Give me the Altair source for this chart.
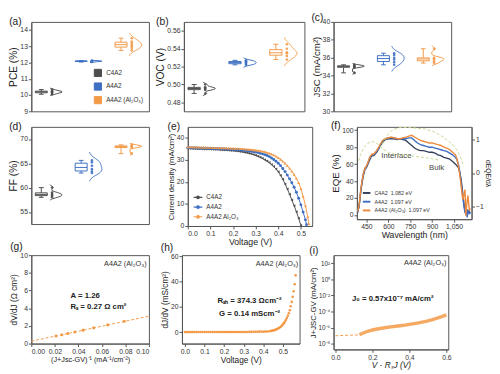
import altair as alt
import pandas as pd

FONT = "Liberation Sans"
GRAY = "#4d4d4d"
BLUE = "#3e6fc2"
ORANGE = "#f39a48"
NAVY = "#34405a"
GREEN = "#c5d98c"
AXC = "#555555"

groups = ["C4A2", "A4A2", "A4A2 (Al₂O₃)"]
group_colors = [GRAY, BLUE, ORANGE]

# (a) PCE (%)
pce_c4a2 = [10.05, 10.12, 10.16, 10.2, 10.22, 10.26, 10.34]
pce_a4a2 = [12.03, 12.06, 12.08, 12.09, 12.1, 12.12]
pce_al2o3 = [12.75, 12.9, 13.0, 13.1, 13.2, 13.3, 13.5]
# (b) Voc (V)
voc_c4a2 = [0.490, 0.494, 0.495, 0.496, 0.497, 0.500]
voc_a4a2 = [0.522, 0.523, 0.524, 0.525, 0.526, 0.527]
voc_al2o3 = [0.528, 0.532, 0.535, 0.536, 0.540, 0.545]
# (c) Jsc (mA/cm2)
jsc_c4a2 = [34.3, 34.9, 35.0, 35.05, 35.1, 35.2]
jsc_a4a2 = [35.2, 35.5, 35.8, 36.0, 36.3, 36.5]
jsc_al2o3 = [35.4, 35.6, 35.8, 35.9, 36.0, 37.0]
# (d) FF (%)
ff_c4a2 = [58.0, 58.3, 58.5, 58.7, 59.0, 60.0]
ff_a4a2 = [63.0, 63.3, 63.8, 64.5, 65.2, 65.6]
ff_al2o3 = [67.0, 68.2, 68.4, 68.5, 68.6, 68.8]

# (e) J-V curves
jv_names = ["C4A2", "A4A2", "A4A2 Al₂O₃"]
jv_shapes = ["triangle-left", "circle", "triangle-up"]
jv_v_c4a2 = [0.00, 0.01, 0.02, 0.03, 0.04, 0.05, 0.06, 0.07, 0.08, 0.09, 0.10, 0.11, 0.12, 0.13, 0.14, 0.15, 0.16, 0.17,
             0.18, 0.19, 0.20, 0.21, 0.22, 0.23, 0.24, 0.25, 0.26, 0.27, 0.28, 0.29, 0.30, 0.31, 0.32, 0.33, 0.34, 0.35,
             0.36, 0.37, 0.38, 0.39, 0.40, 0.41, 0.42, 0.43, 0.44, 0.45, 0.46, 0.47, 0.48, 0.49, 0.50]
jv_j_c4a2 = [35.2, 35.17, 35.14, 35.11, 35.08, 35.05, 35.0, 34.97, 34.93, 34.9, 34.85, 34.8, 34.75, 34.7, 34.65, 34.6,
             34.5, 34.45, 34.35, 34.3, 34.2, 34.1, 34.0, 33.85, 33.7, 33.5, 33.3, 33.05, 32.8, 32.45, 32.1, 31.7, 31.2,
             30.7, 30.1, 29.5, 28.8, 27.9, 27.0, 25.9, 24.6, 23.0, 21.2, 19.1, 16.8, 14.4, 11.8, 9.2, 6.5, 3.5, 0.3]
jv_v_a4a2 = [0.00, 0.01, 0.02, 0.03, 0.04, 0.05, 0.06, 0.07, 0.08, 0.09, 0.10, 0.11, 0.12, 0.13, 0.14, 0.15, 0.16, 0.17,
             0.18, 0.19, 0.20, 0.21, 0.22, 0.23, 0.24, 0.25, 0.26, 0.27, 0.28, 0.29, 0.30, 0.31, 0.32, 0.33, 0.34, 0.35,
             0.36, 0.37, 0.38, 0.39, 0.40, 0.41, 0.42, 0.43, 0.44, 0.45, 0.46, 0.47, 0.48, 0.49, 0.50, 0.51, 0.52, 0.525]
jv_j_a4a2 = [35.5, 35.47, 35.44, 35.41, 35.38, 35.35, 35.32, 35.29, 35.26, 35.23, 35.2, 35.16, 35.12, 35.08, 35.04,
             35.0, 34.95, 34.9, 34.85, 34.8, 34.75, 34.67, 34.6, 34.5, 34.4, 34.3, 34.17, 34.03, 33.88, 33.73, 33.55,
             33.32, 33.05, 32.75, 32.4, 32.0, 31.5, 30.9, 30.2, 29.4, 28.5, 27.4, 26.1, 24.7, 23.1, 21.4, 19.6, 17.6,
             15.3, 12.6, 9.6, 6.3, 2.8, 0.6]
jv_v_al2o3 = [0.00, 0.01, 0.02, 0.03, 0.04, 0.05, 0.06, 0.07, 0.08, 0.09, 0.10, 0.11, 0.12, 0.13, 0.14, 0.15, 0.16,
              0.17, 0.18, 0.19, 0.20, 0.21, 0.22, 0.23, 0.24, 0.25, 0.26, 0.27, 0.28, 0.29, 0.30, 0.31, 0.32, 0.33,
              0.34, 0.35, 0.36, 0.37, 0.38, 0.39, 0.40, 0.41, 0.42, 0.43, 0.44, 0.45, 0.46, 0.47, 0.48, 0.49, 0.50,
              0.51, 0.52, 0.53, 0.535]
jv_j_al2o3 = [35.9, 35.87, 35.84, 35.81, 35.78, 35.75, 35.72, 35.69, 35.66, 35.63, 35.6, 35.57, 35.54, 35.5, 35.47,
              35.43, 35.4, 35.36, 35.32, 35.28, 35.24, 35.19, 35.14, 35.08, 35.02, 34.95, 34.87, 34.78, 34.68, 34.56,
              34.42, 34.27, 34.1, 33.9, 33.66, 33.38, 33.05, 32.66, 32.2, 31.65, 31.0, 30.25, 29.4, 28.45, 27.4, 26.2,
              24.9, 23.4, 21.7, 19.6, 16.9, 13.4, 9.3, 4.3, 1.0]

# (f) EQE spectra
eqe_names = ["C4A2\u00a0\u00a01.082 eV", "A4A2\u00a0\u00a01.097 eV", "A4A2 (Al₂O₃)\u00a0\u00a01.097 eV"]
eqe_wl = [390, 400, 410, 420, 430, 440, 450, 460, 470, 480, 490, 500, 520, 540, 560, 580, 600, 620, 640, 660, 680, 700,
          720, 740, 760, 780, 800, 820, 840, 860, 880, 900, 920, 940, 960, 980, 1000, 1020, 1040, 1060, 1070, 1080,
          1090, 1100, 1110, 1120, 1125, 1130, 1135, 1140, 1145, 1150, 1155, 1160]
eqe_c4a2 = [3, 10, 25, 38, 47, 54, 56, 60, 64, 68, 70, 70, 74, 80, 86, 89, 90, 90, 90, 89, 90, 89, 88, 85, 82, 79, 77,
            76, 76, 75, 74, 74, 73, 71, 70, 68, 67, 66, 63, 60, 58, 56, 50, 40, 25, 10, 4, 12, 6, 2, 5, 3, 4, 2]
eqe_a4a2 = [3, 11, 27, 40, 49, 55, 57, 61, 66, 70, 71, 71, 75, 81, 87, 90, 91, 91, 91, 90, 90, 90, 90, 91, 91, 88, 85,
            83, 82, 81, 80, 80, 79, 78, 77, 76, 75, 73, 71, 68, 65, 60, 50, 36, 20, 8, 2, 8, 3, -3, 6, 2, 3, 1]
eqe_al2o3 = [4, 12, 28, 40, 50, 55, 58, 62, 67, 70, 72, 72, 76, 82, 88, 90, 91, 92, 91, 90, 90, 91, 92, 93, 94, 92, 90,
             88, 87, 86, 85, 85, 84, 83, 82, 80, 79, 77, 74, 71, 66, 58, 46, 32, 18, 25, 30, -1, 8, 18, 23, 14, 5, 8]
interface_wl = [397, 410, 430, 460, 495, 530, 560, 600, 680, 770, 860, 950]
interface_r = [0.36, 0.55, 0.72, 0.88, 0.93, 0.85, 0.72, 0.60, 0.52, 0.50, 0.45, 0.38]
bulk_wl = [560, 580, 600, 630, 680, 750, 850, 920, 980, 1030, 1070, 1100, 1115]
bulk_r = [0.85, 1.02, 1.15, 1.28, 1.34, 1.34, 1.30, 1.20, 1.05, 0.88, 0.68, 0.40, 0.20]

# (g) dV/dJ vs (J+Jsc-GV)^-1
g_x = [0.021, 0.026, 0.031, 0.037, 0.044, 0.053, 0.065, 0.079]
g_y = [0.86, 1.00, 1.15, 1.32, 1.52, 1.78, 2.12, 2.52]
g_fit_x = [0.0, 0.1]
g_fit_y = [0.27, 3.1]

# (h) dJ/dV vs V
h_v = [0.00, 0.01, 0.02, 0.03, 0.04, 0.05, 0.06, 0.07, 0.08, 0.09, 0.10, 0.11, 0.12, 0.13, 0.14, 0.15, 0.16, 0.17,
       0.18, 0.19, 0.20, 0.21, 0.22, 0.23, 0.24, 0.25, 0.26, 0.27, 0.28, 0.29, 0.30, 0.31, 0.32, 0.33, 0.34, 0.35,
       0.36, 0.37, 0.38, 0.39, 0.40, 0.41, 0.42, 0.43, 0.44, 0.445, 0.45, 0.455, 0.46, 0.465, 0.47, 0.475, 0.48,
       0.485, 0.49, 0.495, 0.50, 0.505, 0.51, 0.515, 0.52, 0.525, 0.53, 0.535, 0.54, 0.545, 0.55, 0.555, 0.56, 0.565]
h_g = [0.10, 0.10, 0.11, 0.11, 0.11, 0.12, 0.12, 0.12, 0.12, 0.13, 0.13, 0.13, 0.13, 0.13, 0.14, 0.14, 0.14, 0.14,
       0.14, 0.14, 0.15, 0.15, 0.15, 0.16, 0.16, 0.17, 0.17, 0.18, 0.19, 0.20, 0.21, 0.22, 0.24, 0.26, 0.29, 0.32,
       0.36, 0.41, 0.47, 0.55, 0.42, 0.50, 0.62, 0.80, 1.05, 1.20, 1.40, 1.60, 1.85, 2.15, 2.50, 2.90, 3.40,
       3.90, 4.60, 5.30, 6.20, 7.20, 8.30, 9.70, 11.3, 13.0, 15.0, 17.3, 20.5, 24.0, 28.0, 32.5, 38.0, 45.0]

# (i) J+Jsc-GV vs V-RsJ
i_v = [0.13, 0.15, 0.175, 0.2, 0.225, 0.25, 0.275, 0.3, 0.325, 0.35, 0.375, 0.4, 0.425, 0.45, 0.475, 0.5, 0.525,
       0.55, 0.575, 0.6]
i_j = [1.3e-7, 2.2e-7, 3.6e-7, 5.2e-7, 6.8e-7, 8.5e-7, 1.05e-6, 1.25e-6, 1.5e-6, 1.75e-6, 2.1e-6, 2.6e-6, 3.2e-6,
       4.0e-6, 5.2e-6, 7.0e-6, 1.0e-5, 1.5e-5, 2.3e-5, 3.8e-5]
i_fit_v = [0.0, 0.13]
i_fit_j = [1.0e-7, 1.3e-7]


def ax(**kw):
    d = dict(grid=False, tickSize=3, labelFontSize=7, titleFontSize=10, labelPadding=1, titlePadding=1)
    d.update(kw)
    return alt.Axis(**d)


def ltitle(t, off=-6):
    return alt.TitleParams(t, anchor="start", frame="bounds", fontSize=10.5, fontWeight="normal",
                           offset=off, color="#222")


def box_panel(series, ydom, yticks, ytitle, letter, w, h, fmt=None, legend=None, tsize=10):
    rows = []
    for i, (g, vals) in enumerate(zip(groups, series)):
        for v in vals:
            rows.append({"grp": g, "g2": g, "pos": i + 1, "value": v})
    df = pd.DataFrame(rows)
    xs = alt.Scale(domain=[0.75, 3.7], nice=False, zero=False)
    ys = alt.Scale(domain=ydom, nice=False, zero=False)
    akw = dict(values=yticks, title=ytitle, titleFontSize=tsize)
    if fmt:
        akw["format"] = fmt
    yax = ax(**akw)
    cs = alt.Scale(domain=groups, range=group_colors)
    col = alt.Color("grp:N", scale=cs, legend=legend)
    base = alt.Chart(df)
    stats = base.transform_aggregate(
        q1="q1(value)", q3="q3(value)", med="median(value)", lo="min(value)", hi="max(value)",
        groupby=["grp", "pos"]
    ).transform_calculate(
        xl="datum.pos - 0.15", xr="datum.pos + 0.15", cl="datum.pos - 0.06", cr="datum.pos + 0.06"
    )
    X = lambda f: alt.X(f, scale=xs, axis=None)
    Y = lambda f: alt.Y(f, scale=ys, axis=yax)
    box = stats.mark_rect(filled=False, fill="transparent", strokeWidth=1).encode(
        x=X("xl:Q"), x2="xr:Q", y=Y("q1:Q"), y2="q3:Q", color=col)
    wl = stats.mark_rule(strokeWidth=1).encode(x=X("pos:Q"), y=Y("lo:Q"), y2="q1:Q", color=col)
    wh = stats.mark_rule(strokeWidth=1).encode(x=X("pos:Q"), y=Y("q3:Q"), y2="hi:Q", color=col)
    c1 = stats.mark_rule(strokeWidth=1).encode(x=X("cl:Q"), x2="cr:Q", y=Y("lo:Q"), color=col)
    c2 = stats.mark_rule(strokeWidth=1).encode(x=X("cl:Q"), x2="cr:Q", y=Y("hi:Q"), color=col)
    med = stats.mark_rule(strokeWidth=1).encode(x=X("xl:Q"), x2="xr:Q", y=Y("med:Q"), color=col)
    pts = base.transform_calculate(px="datum.pos + 0.27").mark_circle(size=7, opacity=0.9).encode(
        x=X("px:Q"), y=Y("value:Q"), fill=alt.Fill("g2:N", scale=cs, legend=None))
    vio = base.transform_density(
        "value", groupby=["grp", "pos"], extent=ydom, steps=200, as_=["value", "density"]
    ).transform_joinaggregate(dmax="max(density)", groupby=["grp"]).transform_calculate(
        nd="datum.density / datum.dmax", vx="datum.pos + 0.2 + 0.32 * datum.density / datum.dmax"
    ).transform_filter("datum.nd > 0.03").mark_line(strokeWidth=1).encode(
        x=X("vx:Q"), y=Y("value:Q"), order="value:Q", color=col, detail="grp:N")
    return alt.layer(box, vio, wl, wh, c1, c2, med, pts).properties(width=w, height=h, title=ltitle(letter))


legend_a = alt.Legend(title=None, orient="bottom-right", symbolType="square", symbolSize=55, symbolStrokeWidth=1,
                      symbolFillColor="transparent", labelFontSize=6.5, rowPadding=1, padding=2, offset=3,
                      labelOffset=4)

pa = box_panel([pce_c4a2, pce_a4a2, pce_al2o3], [9, 14.5], [9, 10, 11, 12, 13, 14], "PCE (%)", "(a)", 121, 92,
               legend=legend_a, tsize=10.5)
pb = box_panel([voc_c4a2, voc_a4a2, voc_al2o3], [0.47, 0.57], [0.48, 0.50, 0.52, 0.54, 0.56], "VOC (V)", "(b)", 124,
               92, fmt=".2f", tsize=10.5)
pc = box_panel([jsc_c4a2, jsc_a4a2, jsc_al2o3], [30, 40], [30, 32, 34, 36, 38, 40], "JSC (mA/cm²)", "(c)", 121, 92,
               tsize=10)
pd_ = box_panel([ff_c4a2, ff_a4a2, ff_al2o3], [52.5, 72.5], [55, 60, 65, 70], "FF (%)", "(d)", 121, 100, tsize=10.5)

# (e)
rows = []
for n, vs, js in zip(jv_names, [jv_v_c4a2, jv_v_a4a2, jv_v_al2o3], [jv_j_c4a2, jv_j_a4a2, jv_j_al2o3]):
    for v, j in zip(vs, js):
        rows.append({"dev": n, "v": v, "j": j})
df_e = pd.DataFrame(rows)
cs_e = alt.Scale(domain=jv_names, range=[GRAY, BLUE, ORANGE])
leg_e = alt.Legend(title=None, orient="bottom-left",
                   symbolType="M-1,0L1,0M-0.3,0A0.3,0.3,0,1,0,0.3,0A0.3,0.3,0,1,0,-0.3,0",
                   symbolSize=80, symbolStrokeWidth=1.2, labelFontSize=6.5, rowPadding=0, padding=2, offset=3,
                   labelOffset=3)
xe = alt.X("v:Q", scale=alt.Scale(domain=[0, 0.55], nice=False),
           axis=ax(values=[0, 0.1, 0.2, 0.3, 0.4, 0.5], format=".1f", title="Voltage (V)", titleFontSize=9))
ye = alt.Y("j:Q", scale=alt.Scale(domain=[0, 45], nice=False),
           axis=ax(values=[0, 10, 20, 30, 40], title="Current density (mA/cm²)", titleFontSize=8))
col_e = alt.Color("dev:N", scale=cs_e, legend=leg_e)
le = alt.Chart(df_e).mark_line(strokeWidth=1).encode(x=xe, y=ye, color=col_e)
e_layers = [le]
for n, shp in zip(jv_names, jv_shapes):
    e_layers.append(alt.Chart(df_e).transform_filter(alt.datum.dev == n).mark_point(
        size=9, filled=True, opacity=1, shape=shp).encode(x=xe, y=ye, color=col_e))
pe = alt.layer(*e_layers).properties(width=128, height=102, title=ltitle("(e)"))

# (f)
rows = []
for n, ys_ in zip(eqe_names, [eqe_c4a2, eqe_a4a2, eqe_al2o3]):
    for wv, e in zip(eqe_wl, ys_):
        rows.append({"dev": n, "wl": wv, "eqe": e})
df_f = pd.DataFrame(rows)
rows = []
for n, wls, rs in [("Interface", interface_wl, interface_r), ("Bulk", bulk_wl, bulk_r)]:
    for wv, r in zip(wls, rs):
        rows.append({"part": n, "wl": wv, "r": r})
df_fd = pd.DataFrame(rows)
df_ft = pd.DataFrame({"wl": [655, 930], "eqe": [70, 55], "t": ["Interface", "Bulk"]})
xf = alt.X("wl:Q", scale=alt.Scale(domain=[385, 1170], nice=False),
           axis=ax(values=[450, 600, 750, 900, 1050], title="Wavelength (nm)", titleFontSize=9))
yf = alt.Y("eqe:Q", scale=alt.Scale(domain=[-5, 104], nice=False),
           axis=ax(values=[0, 20, 40, 60, 80, 100], title="EQE (%)", titleFontSize=10))
leg_f = alt.Legend(title=None, orient="bottom-left", symbolType="stroke", symbolStrokeWidth=2, symbolSize=60,
                   labelFontSize=5.5, rowPadding=0, padding=2, offset=3, labelOffset=3)
lf = alt.Chart(df_f).mark_line(strokeWidth=1.4).encode(
    x=xf, y=yf, color=alt.Color("dev:N", scale=alt.Scale(domain=eqe_names, range=[NAVY, BLUE, "#ee8a3c"]),
                                legend=leg_f))
tf = alt.Chart(df_ft).mark_text(fontSize=8, color="#444").encode(x=xf, y=yf, text="t:N")
dfl = alt.Chart(df_fd).mark_line(strokeWidth=1, strokeDash=[3, 2], color=GREEN).encode(
    x=xf, y=alt.Y("r:Q", scale=alt.Scale(domain=[-1.36, 1.36], nice=False),
                  axis=ax(orient="right", values=[-1, 0, 1], title="dEQE/dλ", titleFontSize=7)),
    detail="part:N")
pf = alt.layer(alt.layer(lf, tf), dfl).resolve_scale(y="independent").properties(
    width=118, height=95, title=ltitle("(f)"))

# (g)
df_g = pd.DataFrame({"x": g_x, "y": g_y})
df_gf = pd.DataFrame({"x": g_fit_x, "y": g_fit_y})
xg = alt.X("x:Q", scale=alt.Scale(domain=[0, 0.1], nice=False),
           axis=ax(values=[0, 0.02, 0.04, 0.06, 0.08, 0.1], format=".2f",
                   title="(J+Jsc-GV)⁻¹ (mA⁻¹/cm⁻²)", titleFontSize=7.5))
yg = alt.Y("y:Q", scale=alt.Scale(domain=[0, 10], nice=False),
           axis=ax(values=[0, 2, 4, 6, 8, 10], title="dV/dJ (Ω cm²)", titleFontSize=8.5))
gl = alt.Chart(df_gf).mark_line(strokeWidth=1, strokeDash=[3, 2], color=ORANGE).encode(x=xg, y=yg)
gp = alt.Chart(df_g).mark_circle(size=10, color=ORANGE, opacity=1).encode(x=xg, y=yg)
df_gt = pd.DataFrame({"x": [0.0333, 0.0333], "y": [5.4, 4.1], "t": ["A = 1.26", "Rₛ = 0.27 Ω cm²"]})
gt = alt.Chart(df_gt).mark_text(fontSize=8, fontWeight="bold", align="left", color="#222").encode(
    x=xg, y=yg, text="t:N")
df_gh = pd.DataFrame({"x": [0.098], "y": [9.0], "t": ["A4A2 (Al₂O₃)"]})
gh = alt.Chart(df_gh).mark_text(fontSize=7.5, align="right", color="#333").encode(x=xg, y=yg, text="t:N")
pg = alt.layer(gl, gp, gt, gh).properties(width=121, height=91, title=ltitle("(g)", -1))

# (h)
df_h = pd.DataFrame({"v": h_v, "g": h_g})
xh = alt.X("v:Q", scale=alt.Scale(domain=[-0.015, 0.585], nice=False),
           axis=ax(values=[0, 0.1, 0.2, 0.3, 0.4, 0.5], format=".1f", title="Voltage (V)", titleFontSize=8.5))
yh = alt.Y("g:Q", scale=alt.Scale(domain=[-9, 61], nice=False),
           axis=ax(values=[0, 20, 40, 60], title="dJ/dV (mS/cm²)", titleFontSize=8.5))
hp = alt.Chart(df_h).mark_circle(size=7, color=ORANGE, opacity=1).encode(x=xh, y=yh)
df_ht = pd.DataFrame({"v": [0.33, 0.33], "g": [24.8, 14.7], "t": ["Rₛₕ = 374.3 Ωcm⁻²", "G = 0.14 mScm⁻²"]})
ht = alt.Chart(df_ht).mark_text(fontSize=8, fontWeight="bold", color="#222").encode(x=xh, y=yh, text="t:N")
df_hh = pd.DataFrame({"v": [0.578], "g": [53.8], "t": ["A4A2 (Al₂O₃)"]})
hh = alt.Chart(df_hh).mark_text(fontSize=7.5, align="right", color="#333").encode(x=xh, y=yh, text="t:N")
ph = alt.layer(hp, ht, hh).properties(width=121, height=91, title=ltitle("(h)", -1))

# (i)
df_i = pd.DataFrame({"v": i_v, "j": i_j})
df_if = pd.DataFrame({"v": i_fit_v, "j": i_fit_j})
xi = alt.X("v:Q", scale=alt.Scale(domain=[-0.01, 0.61], nice=False),
           axis=ax(values=[0, 0.2, 0.4, 0.6], format=".1f", title="V - RₛJ (V)", titleFontSize=8.5,
                   titleFontStyle="italic"))
lab_expr = ("datum.value > 50 ? '10²' : datum.value > 0.5 ? '10⁰' : datum.value > 0.005 ? '10⁻²' : "
            "datum.value > 0.00005 ? '10⁻⁴' : datum.value > 0.0000005 ? '10⁻⁶' : '10⁻⁸'")
yi = alt.Y("j:Q", scale=alt.Scale(type="log", domain=[2e-9, 1e3], nice=False),
           axis=ax(values=[1e-8, 1e-6, 1e-4, 1e-2, 1, 100], labelExpr=lab_expr, labelFontSize=6.5,
                   title="J+JSC-GV (mA/cm²)", titleFontSize=8))
il = alt.Chart(df_i).mark_line(strokeWidth=3.5, color=ORANGE, opacity=0.85).encode(x=xi, y=yi)
ifl = alt.Chart(df_if).mark_line(strokeWidth=1, strokeDash=[3, 2], color=ORANGE).encode(x=xi, y=yi)
df_it = pd.DataFrame({"v": [0.31], "j": [3.8e-3], "t": ["J₀ = 0.57x10⁻⁷ mA/cm²"]})
it = alt.Chart(df_it).mark_text(fontSize=8, fontWeight="bold", color="#222").encode(x=xi, y=yi, text="t:N")
df_ih = pd.DataFrame({"v": [0.6], "j": [100], "t": ["A4A2 (Al₂O₃)"]})
ih = alt.Chart(df_ih).mark_text(fontSize=7.5, align="right", color="#333").encode(x=xi, y=yi, text="t:N")
pi = alt.layer(ifl, il, it, ih).properties(width=118, height=97, title=ltitle("(i)", -1))


def ind(c):
    return c.resolve_scale(color="independent", fill="independent", stroke="independent", shape="independent")


row1 = ind(alt.hconcat(pa, pb, pc, spacing=5))
row2 = ind(alt.hconcat(pd_, pe, pf, spacing=17))
row3 = ind(alt.hconcat(pg, ph, pi, spacing=8))
top = ind(alt.vconcat(row1, row2, spacing=5))
chart = ind(alt.vconcat(top, row3, spacing=-6)).properties(padding=0).configure(font=FONT).configure_view(
    stroke=AXC, strokeWidth=1).configure_axis(
    labelFont=FONT, titleFont=FONT, labelColor="#333", titleColor="#222", domainColor=AXC, tickColor=AXC,
    titleFontWeight="normal").configure_legend(labelFont=FONT, labelColor="#333").configure_title(font=FONT)

chart.save("out.html", embed_options={"renderer": "svg", "actions": False})
